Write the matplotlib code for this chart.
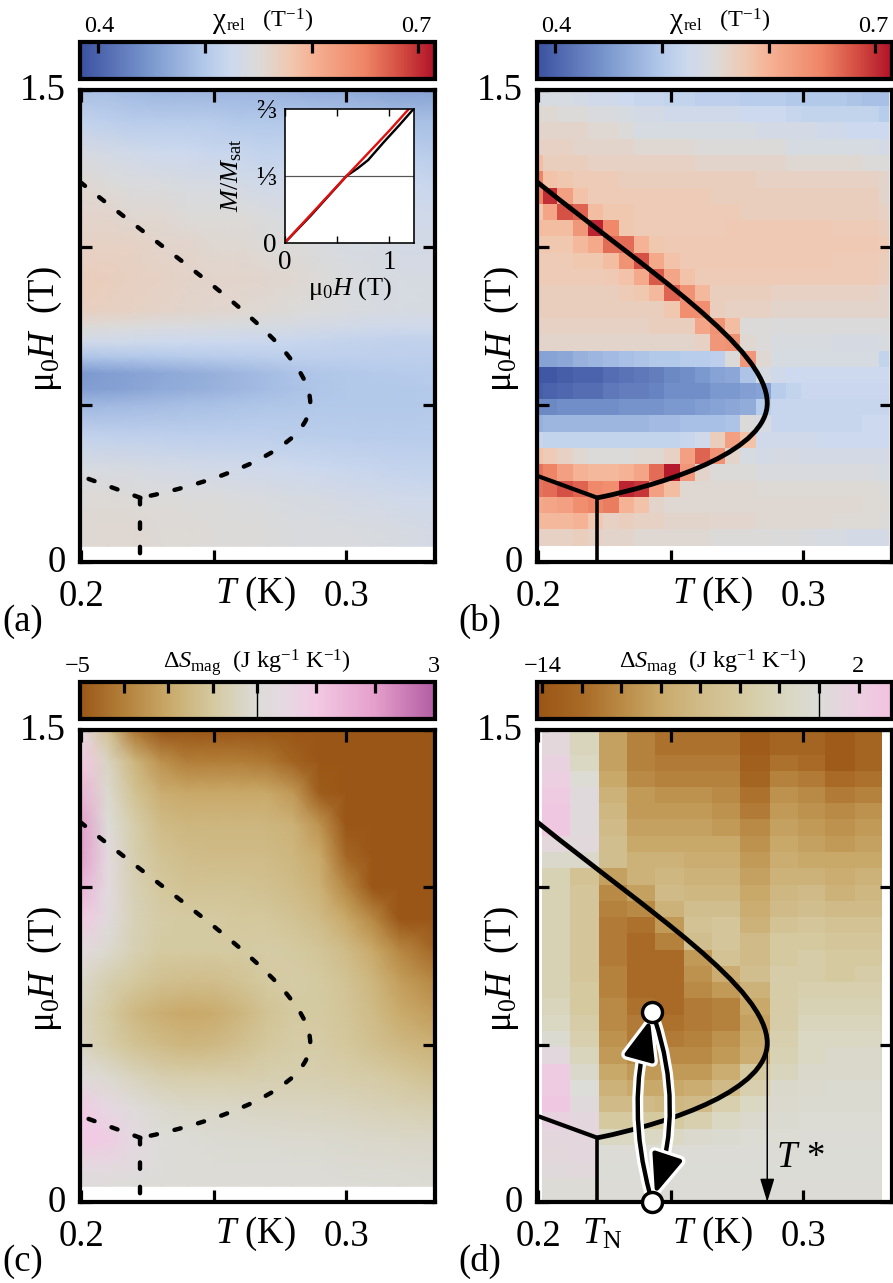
import numpy as np
import matplotlib
matplotlib.use('Agg')
import matplotlib.pyplot as plt
from matplotlib.colors import LinearSegmentedColormap, Normalize, TwoSlopeNorm
from matplotlib.patches import FancyArrowPatch, PathPatch
from matplotlib.path import Path
from matplotlib.cm import ScalarMappable
from matplotlib.transforms import ScaledTranslation
import matplotlib.patheffects as pe

plt.rcParams['font.family'] = ['Liberation Serif', 'DejaVu Serif']
plt.rcParams['mathtext.fontset'] = 'custom'
plt.rcParams['mathtext.rm'] = 'Liberation Serif'
plt.rcParams['mathtext.it'] = 'Liberation Serif:italic'
plt.rcParams['mathtext.bf'] = 'Liberation Serif:bold'
plt.rcParams['mathtext.fallback'] = 'stix'

W, H_PX = 893, 1283

# ---- phase boundary (T in K, mu0 H in T): Bezier control points
line_T = [.1995,.2420,.2864,.2864,.2864,.2520,.2223]
line_H = [1.208,.920,.680,.505,.360,.255,.204]
branch_T = [.2223,.1995]
branch_H = [.204,.274]
trunk_T = [.2223,.2223]
trunk_H = [.204,0]

# ---- panel a (smooth chi_rel)
grid_T = [.2,.21,.22,.23,.24,.25,.26,.27,.28,.29,.30,.31,.32,.3335]
a_H = [.05,.1,.2,.3,.4,.5,.55,.6,.65,.7,.75,.8,.9,1.0,1.1,1.2,1.3,1.4,1.5]
a_chi = [
 [555,555,555,552,552,550,550,548,545,545,543,542,540,535],
 [555,555,555,552,552,550,550,548,545,545,543,542,540,535],
 [552,552,550,550,548,548,545,543,540,538,535,533,530,528],
 [540,540,538,535,533,532,530,528,525,523,520,518,516,515],
 [515,513,512,512,510,510,510,510,508,507,506,505,505,505],
 [482,484,486,488,490,492,495,497,498,500,500,500,500,502],
 [455,458,462,468,472,476,482,488,493,497,500,500,500,502],
 [450,455,460,465,470,475,482,488,494,498,500,502,503,505],
 [495,497,498,500,502,504,506,508,510,510,510,510,510,510],
 [530,530,528,526,525,524,523,522,520,518,515,514,513,513],
 [552,550,548,545,545,543,542,540,538,535,533,530,530,530],
 [568,566,565,562,560,558,556,553,550,546,543,541,540,538],
 [572,570,566,564,561,560,560,558,555,550,545,541,540,538],
 [565,565,565,560,560,555,555,550,550,545,540,540,535,535],
 [560,560,555,555,550,550,550,545,540,540,535,535,530,530],
 [555,550,545,545,540,540,535,530,530,530,530,525,525,520],
 [540,535,530,525,525,520,520,515,515,515,515,510,510,505],
 [515,510,505,505,505,505,500,500,500,500,495,495,490,490],
 [490,490,485,480,480,480,480,480,475,470,470,465,460,460],
]

# ---- panel b (measured chi_rel cells), rows listed from top field to low field
b_T_edges = [.1995,.2016,.2072,.2130,.2188,.2245,.2303,.2360,.2418,.2475,.2533,.2590,.2648,.2705,.2763,.2820,
             .2878,.2935,.2993,.3050,.3108,.3165,.3223,.3284,.3325]
b_H_edges = [.052,.104,.155,.207,.259,.311,.362,.414,.466,.517,.569,.621,.672,.724,.776,.828,.879,.931,.983,
             1.035,1.086,1.138,1.190,1.241,1.293,1.345,1.397,1.448,1.5]
b_chi = [
 [540,540,540,535,530,530,525,520,520,515,515,510,510,510,505,505,505,500,500,500,500,495,490,490],
 [555,555,550,550,545,545,540,535,535,530,530,530,530,530,525,525,525,520,515,515,515,515,515,505],
 [560,560,560,560,555,555,550,540,540,540,540,540,540,540,540,535,535,535,535,530,530,525,525,525],
 [565,565,565,560,560,560,560,555,555,555,555,550,550,550,550,550,550,540,540,540,540,540,540,535],
 [590,570,570,570,565,565,565,565,565,565,565,560,560,560,560,560,560,555,555,555,555,555,550,550],
 [650,585,580,575,575,575,570,570,570,570,570,570,570,570,570,565,565,565,565,565,565,565,565,560],
 [650,700,620,585,575,575,575,575,575,575,575,575,570,570,570,570,570,570,570,570,570,570,570,560],
 [580,615,680,670,590,580,580,575,575,575,575,575,575,575,570,570,570,570,570,570,570,570,570,565],
 [590,590,590,630,705,645,580,575,575,575,575,575,575,578,578,578,578,578,578,578,575,575,575,570],
 [580,580,580,595,610,665,665,600,580,578,578,578,578,578,578,578,578,578,578,578,578,578,578,575],
 [575,575,575,580,580,590,635,680,610,585,578,578,578,578,578,578,578,578,578,578,575,575,575,572],
 [575,575,575,575,575,578,585,610,675,615,585,575,575,575,575,575,575,575,575,575,575,575,575,570],
 [570,570,570,570,570,570,575,580,595,670,635,595,570,570,570,570,565,565,565,565,565,565,565,560],
 [570,570,570,570,570,570,570,570,570,580,640,640,570,565,565,565,560,560,560,560,560,560,560,560],
 [565,565,565,565,565,565,565,565,570,570,570,615,635,590,550,550,548,548,548,548,548,548,548,548],
 [560,560,560,560,560,560,560,560,560,560,560,565,630,635,555,550,542,542,542,542,538,538,538,542],
 [460,460,465,475,480,485,490,495,500,500,505,505,510,550,630,555,540,540,540,540,540,540,540,515],
 [390,390,395,400,400,410,415,420,425,435,440,450,460,465,495,540,530,525,525,525,525,525,525,525],
 [395,400,405,410,410,420,425,425,430,440,440,440,450,450,455,460,505,515,522,522,522,522,522,522],
 [435,435,440,440,440,440,445,445,445,450,450,455,460,465,470,505,520,520,520,520,520,520,520,520],
 [475,480,480,480,480,480,480,480,485,485,490,490,490,495,550,540,520,520,520,520,520,520,525,525],
 [520,515,515,515,515,515,515,515,515,515,520,530,570,620,585,530,530,530,530,525,525,525,525,525],
 [585,575,565,555,550,550,550,555,555,565,620,670,635,560,540,535,538,538,535,535,535,535,535,535],
 [660,650,620,600,595,595,600,615,665,710,630,560,550,550,550,545,545,545,545,545,545,545,545,540],
 [660,665,680,670,645,640,705,695,620,590,555,555,555,555,555,552,552,552,552,552,552,552,552,550],
 [610,615,620,640,650,655,600,585,560,555,555,555,555,555,555,555,555,555,555,555,555,555,552,552],
 [595,595,595,600,580,565,570,565,565,560,560,560,558,558,558,555,555,555,555,555,552,552,552,550],
 [565,565,565,570,565,560,560,555,555,555,555,555,550,550,550,550,548,548,545,540,540,535,535,535],
]

# ---- panel c (smooth entropy change), low field first
c_H = [.05,.1,.2,.3,.4,.5,.6,.7,.8,.9,1.0,1.1,1.2,1.3,1.4,1.5]
c_S = [
 [.1,.05,0,-.05,-.05,-.05,-.05,-.05,-.05,-.05,-.05,-.05,-.1,-.1],
 [.3,.3,.2,.05,-.05,-.05,-.05,-.05,-.05,-.05,-.1,-.1,-.1,-.15],
 [1,.9,.4,.05,-.05,-.1,-.15,-.15,-.2,-.2,-.25,-.3,-.35,-.4],
 [.9,.5,.1,-.2,-.35,-.35,-.4,-.5,-.5,-.55,-.6,-.7,-.8,-.9],
 [.1,-.2,-.6,-.9,-1,-1,-1,-.9,-.9,-.9,-1,-1.1,-1.3,-1.6],
 [-.5,-1,-1.5,-1.8,-2,-1.9,-1.6,-1.3,-1.1,-1.1,-1.3,-1.6,-1.9,-2.2],
 [-.6,-1.2,-1.9,-2.3,-2.5,-2.4,-2,-1.5,-1.2,-1.2,-1.4,-1.8,-2.4,-2.9],
 [-.3,-.9,-1.3,-1.6,-1.7,-1.7,-1.5,-1.2,-1.1,-1.2,-1.5,-2,-2.8,-3.5],
 [.3,-.2,-.8,-1.2,-1.2,-1.2,-1.2,-1.1,-1.2,-1.4,-1.8,-2.5,-3.5,-4.5],
 [1,.2,-.7,-1.1,-1.2,-1.2,-1.3,-1.3,-1.5,-1.8,-2.5,-3.5,-5,-5],
 [1.5,.3,-.8,-1.3,-1.5,-1.5,-1.5,-1.6,-1.8,-2.2,-3.5,-5,-5,-5],
 [2,.3,-.9,-1.5,-1.7,-1.8,-1.8,-1.8,-2,-2.5,-4.5,-5,-5,-5],
 [2,0,-1,-1.8,-2,-2,-2,-2,-2.2,-3.2,-5,-5,-5,-5],
 [1.5,-.2,-1.5,-2.3,-2.5,-2.5,-2.5,-2.5,-3,-4.8,-5,-5,-5,-5],
 [1,-.5,-2,-3.2,-3.8,-3.8,-3.8,-4,-4.6,-5,-5,-5,-5,-5],
 [.5,-1.5,-4,-5,-5,-5,-5,-5,-5,-5,-5,-5,-5,-5],
]

# ---- panel d (measured entropy change cells), rows listed from top field to low field
d_T_edges = [.2015,.2121,.2230,.2336,.2442,.2551,.2657,.2762,.2875,.2981,.3083,.3196,.3298]
d_H_edges = [0,.077,.129,.181,.233,.285,.336,.388,.44,.492,.543,.595,.647,.698,.75,.802,.854,.905,.957,1.009,
             1.061,1.112,1.164,1.216,1.268,1.32,1.371,1.422,1.5]
d_S = [
 [.8,-2,-8.5,-10.5,-11.5,-11.5,-11.5,-13.5,-12.5,-12.5,-13.5,-12.5],
 [1.5,-1.5,-8.5,-10.5,-11,-11,-11,-13,-11.5,-12,-13.5,-12.5],
 [2,-.3,-8,-10,-10.5,-10.5,-10.5,-12.5,-10.5,-11,-12,-11.5],
 [2.5,.5,-7,-9,-9.5,-9.5,-10,-11.5,-9.5,-10,-11,-10.5],
 [3,.5,-6.5,-9,-9,-9,-9.5,-11,-9,-9.5,-10,-9.5],
 [3,.5,-6,-8.5,-8.5,-8.5,-9,-10,-8.5,-9,-9.5,-9],
 [.8,.6,-5.5,-8,-8,-8,-8,-9.5,-8,-8.5,-9,-8.5],
 [-1,-1,-5.5,-7,-7,-7.5,-7.5,-9,-7.5,-8,-8,-8],
 [-2.5,-5,-8.5,-7,-6.5,-7,-7,-8.5,-7,-7,-7.5,-7],
 [-2.5,-4.5,-10,-8.5,-6,-6.5,-6.5,-8,-6.5,-6,-7,-6.5],
 [-2.5,-4.5,-10.5,-10,-7,-5.5,-5.5,-7.5,-6,-5.5,-6,-6],
 [-2.5,-4.5,-11,-11.5,-9,-5,-4.5,-7,-5,-4.5,-5,-5],
 [-2.5,-4.5,-11,-12,-10.5,-5.5,-4.5,-6,-4,-4,-4.5,-4.5],
 [-2.5,-4.5,-11,-12,-12,-9,-5,-6,-4,-3.5,-4,-4],
 [-2.5,-4.5,-10.5,-12,-12,-9.5,-7.5,-5.5,-3.5,-3.5,-4,-3.5],
 [-2.5,-4,-10.5,-12,-12,-10,-9,-7,-3.5,-3,-3,-3],
 [-2,-4,-10,-11.5,-12,-11,-10.5,-8,-3.5,-2.5,-2.5,-2.5],
 [-1.5,-3.5,-10,-11,-11.5,-11,-10.5,-8.5,-3.5,-2,-2,-2],
 [-.5,-3,-9.5,-11,-11,-10.5,-9.5,-8,-3,-1.5,-1.5,-1.5],
 [.7,-2,-9,-10,-10,-10,-9,-7.5,-2.5,-1.5,-1,-1],
 [2.5,-1,-8,-9,-9,-9,-7.5,-4,-2,-1,-1,-1],
 [2.5,0,-7,-8,-8,-7.5,-6,-3,-1,-.8,-.5,-.5],
 [3,.5,-6,-6,-6.5,-6,-3,-1.5,-.8,-.5,-.5,-.5],
 [1.5,1,-4,-4,-4,-3,-1.5,-.8,-.5,-.3,-.3,-.3],
 [1,1,-1.5,-1.5,-1.5,-.8,-.5,-.3,-.3,-.2,-.2,-.2],
 [.8,1,-.2,-.2,-.2,-.2,-.2,-.2,-.2,-.1,-.1,-.1],
 [.5,.6,-.1,-.1,-.1,-.1,-.1,-.1,-.1,-.1,-.1,-.1],
 [-.2,-.2,-.2,-.2,-.2,-.2,-.2,-.2,-.2,-.2,-.2,-.2],
]

# ---- inset magnetisation
inset_H_black = [0,.25,.45,.595,.70,.80,.95,1.1,1.239]
inset_M_black = [0,.135,.25,.333,.37,.411,.50,.585,.667]
inset_H_red = [0,.25,.595,.8,1.0,1.194]
inset_M_red = [0,.14,.333,.445,.555,.667]

# ---- colour scales
chi_vals = [.383,.45,.50,.525,.55,.58,.60,.65,.685,.715]
chi_cols = ['#3a50a0','#7c99cf','#b3c9ea','#cdd9ee','#dcdad8','#f0c8b0','#f6b295','#ee8566','#d24a40','#b01228']
chi_ticks = [.4,.5,.6,.7]
c_vals = [-5,-3.75,-2.5,-1.25,0,.5,1,2,3]
c_cols = ['#9a5616','#b3803a','#c9a969','#d4c99f','#dcdcd8','#e6d8e2','#f3c9e3','#e49fcb','#b35da3']
c_ticks = [-3.75,-2.5,-1.25,0,1,2]
d_vals = [-14.3,-12,-10,-8,-6,-4,-2,0,2,3.67]
d_cols = ['#9a5414','#a86a26','#b98a45','#c9a96a','#d0bb88','#d5c9a0','#d9d5bc','#dcdcd8','#edcfe2','#f2c2de']
d_ticks = [-14,-12,-10,-8,-6,-4,-2,0,2]

chi_norm = Normalize(chi_vals[0], chi_vals[-1])
chi_cmap = LinearSegmentedColormap.from_list('chi', [((v-chi_vals[0])/(chi_vals[-1]-chi_vals[0]), c) for v, c in zip(chi_vals, chi_cols)], N=512)
c_norm = TwoSlopeNorm(vmin=-5, vcenter=0, vmax=3)
c_cmap = LinearSegmentedColormap.from_list('cs', [(float(c_norm(v)), c) for v, c in zip(c_vals, c_cols)], N=512)
d_norm = Normalize(d_vals[0], d_vals[-1])
d_cmap = LinearSegmentedColormap.from_list('ds', [((v-d_vals[0])/(d_vals[-1]-d_vals[0]), c) for v, c in zip(d_vals, d_cols)], N=512)

fig = plt.figure(figsize=(W/100, H_PX/100), dpi=100)
PT = 0.72  # points per pixel


def axpx(x0, y0, x1, y1):
    return fig.add_axes([x0/W, 1-y1/H_PX, (x1-x0)/W, (y1-y0)/H_PX])


def ftext(x, y, s, **kw):
    return fig.text(x/W, 1-y/H_PX, s, **kw)


FS = 26.5
CBFS = 17.5


def panel(x0, y0):
    ax = axpx(x0, y0, x0+355, y0+472)
    ax.set_xlim(.1993, .3333)
    ax.set_ylim(0, 1.5)
    ax.set_xticks([.2, .25, .3])
    ax.set_xticklabels(['0.2', '', '0.3'], fontsize=FS)
    ax.set_yticks([0, .5, 1, 1.5])
    ax.set_yticklabels(['0', '', '', '1.5'], fontsize=FS)
    ax.tick_params(axis='both', direction='in', top=True, right=True, length=12*PT, width=3.2*PT, zorder=20)
    ax.tick_params(axis='x', pad=12.5)
    ax.tick_params(axis='y', pad=10)
    shift = ScaledTranslation(0, 3.5/100, fig.dpi_scale_trans)
    for lab in ax.get_yticklabels():
        lab.set_transform(lab.get_transform() + shift)
    for s in ax.spines.values():
        s.set_linewidth(4.2*PT)
        s.set_zorder(25)
    ax.text(.1993+(176/355)*.134, -41*1.5/472, r'$\mathit{T}$ (K)', fontsize=FS, ha='center', va='baseline', clip_on=False)
    ftext(x0-35, y0+239, r'$\mathrm{\mu_0}\mathit{H}$  (T)', fontsize=FS, rotation=90, ha='center', va='center')
    return ax


def cbar(x0, y0, cmap, norm, ticks):
    cax = axpx(x0, y0, x0+355, y0+36.5)
    cb = fig.colorbar(ScalarMappable(norm=norm, cmap=cmap), cax=cax, orientation='horizontal')
    cb.set_ticks(ticks)
    cax.xaxis.set_ticks_position('top')
    cax.tick_params(axis='x', which='major', direction='in', length=11*PT, width=3.2*PT, labeltop=False, labelbottom=False)
    cax.minorticks_off()
    cb.outline.set_linewidth(4.2*PT)
    return cb, cax


def draw_curve(ax, dashed):
    verts = list(zip(line_T, line_H))
    codes = [Path.MOVETO] + [Path.CURVE4]*6
    if dashed:
        lw = 4.4*PT
        ls = (0, (1.45, 4.1))
        ax.add_patch(PathPatch(Path(verts, codes), fc='none', ec='k', lw=lw, ls=ls, capstyle='round', zorder=10))
        kw = dict(color='k', lw=lw, linestyle=ls, dash_capstyle='round')
        ax.plot(branch_T, branch_H, zorder=10, **kw)
        ax.plot(trunk_T, trunk_H, zorder=10, **kw)
    else:
        ax.add_patch(PathPatch(Path(verts, codes), fc='none', ec='k', lw=4.8*PT, capstyle='butt', zorder=10))
        ax.plot(branch_T, branch_H, color='k', lw=4.2*PT, solid_capstyle='round', zorder=10)
        ax.plot(trunk_T, trunk_H, color='k', lw=3.6*PT, solid_capstyle='butt', zorder=10)


def chi_label(x):
    ftext(x, 28, 'χ', fontsize=21, ha='left', va='baseline')
    ftext(x+13, 28, r'$_{\mathrm{rel}}$   (T$^{-1}$)', fontsize=CBFS, ha='left', va='baseline')


# ---------------- panel a
axa = panel(79.5, 90)
axa.pcolormesh(grid_T, a_H, np.array(a_chi)/1000, cmap=chi_cmap, norm=chi_norm, shading='gouraud')
draw_curve(axa, True)
cbar(79.5, 42, chi_cmap, chi_norm, chi_ticks)
ftext(99, 32, '0.4', fontsize=CBFS, ha='center', va='baseline')
ftext(416, 32, '0.7', fontsize=CBFS, ha='center', va='baseline')
chi_label(213)
ftext(2, 631, '(a)', fontsize=FS, ha='left', va='baseline')

ins = axpx(284.5, 108.5, 414, 243)
ins.set_xlim(0, 1.239)
ins.set_ylim(0, 2/3)
ins.axhline(1/3, color='#555555', lw=1.2*PT)
ins.plot(inset_H_black, inset_M_black, color='k', lw=2.4*PT)
ins.plot(inset_H_red, inset_M_red, color='#e01010', lw=2.4*PT)
ins.set_xticks([0, .5, 1])
ins.set_xticklabels(['0', '', '1'], fontsize=19.5)
ins.set_yticks([0, 1/3, 2/3])
ins.set_yticklabels(['0', '⅓', '⅔'], fontsize=19.5)
ins.tick_params(axis='x', direction='in', top=True, length=7*PT, width=1.4*PT, pad=5)
ins.tick_params(axis='y', length=0, pad=6)
for s in ins.spines.values():
    s.set_linewidth(1.6*PT)
ins.set_zorder(30)
ftext(350, 295, r'$\mathrm{\mu_0}\mathit{H}$ (T)', fontsize=19, ha='center', va='baseline', zorder=40)
ftext(232, 175, r'$\mathit{M}/\mathit{M}_{\mathrm{sat}}$', fontsize=19, rotation=90, ha='center', va='center')

# ---------------- panel b
axb = panel(536.5, 90)
axb.pcolormesh(b_T_edges, b_H_edges, np.array(b_chi)[::-1]/1000, cmap=chi_cmap, norm=chi_norm, shading='flat')
draw_curve(axb, False)
cbar(536.5, 42, chi_cmap, chi_norm, chi_ticks)
ftext(556, 32, '0.4', fontsize=CBFS, ha='center', va='baseline')
ftext(873, 32, '0.7', fontsize=CBFS, ha='center', va='baseline')
chi_label(670)
ftext(458, 631, '(b)', fontsize=FS, ha='left', va='baseline')

# ---------------- panel c
axc = panel(79.5, 730)
axc.pcolormesh(grid_T, c_H, np.array(c_S), cmap=c_cmap, norm=c_norm, shading='gouraud')
draw_curve(axc, True)
_, cc = cbar(79.5, 682, c_cmap, c_norm, c_ticks)
cc.axvline(0, color='k', lw=1.4*PT)
ftext(78, 672, '−5', fontsize=CBFS, ha='center', va='baseline')
ftext(434, 672, '3', fontsize=CBFS, ha='center', va='baseline')
ftext(257, 668, r'Δ$\mathit{S}_{\mathrm{mag}}$  (J kg$^{-1}$ K$^{-1}$)', fontsize=CBFS, ha='center', va='baseline')
ftext(2, 1271, '(c)', fontsize=FS, ha='left', va='baseline')

# ---------------- panel d
axd = panel(536.5, 730)
axd.pcolormesh(d_T_edges, d_H_edges, np.array(d_S)[::-1], cmap=d_cmap, norm=d_norm, shading='flat')
draw_curve(axd, False)
_, cd = cbar(536.5, 682, d_cmap, d_norm, d_ticks)
cd.axvline(0, color='k', lw=1.4*PT)
ftext(543, 672, '−14', fontsize=CBFS, ha='center', va='baseline')
ftext(858, 672, '2', fontsize=CBFS, ha='center', va='baseline')
ftext(713, 668, r'Δ$\mathit{S}_{\mathrm{mag}}$  (J kg$^{-1}$ K$^{-1}$)', fontsize=CBFS, ha='center', va='baseline')
ftext(458, 1271, '(d)', fontsize=FS, ha='left', va='baseline')
ftext(602, 1244, r'$\mathit{T}_{\mathrm{N}}$', fontsize=FS, ha='center', va='baseline')
ftext(776, 1167, r'$\mathit{T}$', fontsize=FS, ha='left', va='baseline')
ftext(806, 1167, '*', fontsize=FS, ha='left', va='baseline')

T_star, H_low = .2864, .47
axd.annotate('', xy=(T_star, 0), xytext=(T_star, H_low), zorder=12,
             arrowprops=dict(arrowstyle='-|>,head_length=.72,head_width=.22', lw=1.5*PT, color='k',
                             mutation_scale=20, shrinkA=0, shrinkB=0))

T_c, H_top = .2430, .604
white = [pe.withStroke(linewidth=11*PT, foreground='white')]
for start, end, rad in [((T_c, 0), (T_c, H_top), -.15), ((T_c, H_top), (T_c, 0), -.18)]:
    a = FancyArrowPatch(start, end, connectionstyle=f'arc3,rad={rad}',
                        arrowstyle='-|>,head_length=1.2,head_width=.48', mutation_scale=20,
                        lw=4.4*PT, color='k', shrinkA=6, shrinkB=6, zorder=14, path_effects=white, clip_on=False)
    axd.add_patch(a)
axd.plot([T_c, T_c], [0, H_top], 'o', ms=20*PT, mfc='white', mec='k', mew=3.4*PT, zorder=30, clip_on=False)

fig.savefig('out.png', dpi=100)
